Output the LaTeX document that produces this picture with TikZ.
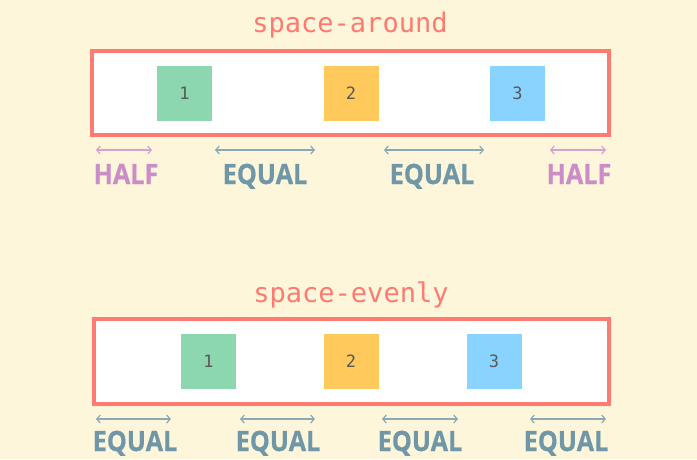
\documentclass[tikz,border=0pt]{standalone}
\usepackage{fontspec}
\setmainfont{Open Sans}
\newfontfamily\monofont{DejaVu Sans Mono}
\newfontfamily\labfont[FakeStretch=0.9,FakeBold=0.6]{Open Sans}
\usetikzlibrary{arrows.meta}
\definecolor{bg}{HTML}{FEF6DB}
\definecolor{salmon}{HTML}{FF7A70}
\definecolor{sqgreen}{HTML}{8CD6B0}
\definecolor{sqyellow}{HTML}{FFC95C}
\definecolor{sqblue}{HTML}{88D3FF}
\definecolor{halfc}{HTML}{CB8DC7}
\definecolor{halfarr}{HTML}{D5A2D2}
\definecolor{equalc}{HTML}{6F97A8}
\definecolor{equalarr}{HTML}{89A9B7}
\tikzset{
  title/.style={text=salmon, font=\monofont\fontsize{27}{27}\selectfont, inner sep=0pt, anchor=base},
  container/.style={draw=salmon, line width=3.2pt, fill=white, inner sep=0pt},
  item/.style={minimum width=55pt, minimum height=55pt, inner sep=0pt, text=black!65, font=\monofont\fontsize{17}{17}\selectfont},
  gap/.style={line width=1.2pt, {Straight Barb[length=3.5pt,width=8pt]}-{Straight Barb[length=3.5pt,width=8pt]}},
  halfgap/.style={gap, draw=halfarr},
  eqgap/.style={gap, draw=equalarr},
  lab/.style={font=\labfont\bfseries\fontsize{28}{28}\selectfont, inner sep=0pt, anchor=base},
  halflab/.style={lab, text=halfc},
  eqlab/.style={lab, text=equalc},
}
\begin{document}
\begin{tikzpicture}[x=1pt,y=-1pt]
\fill[bg] (0,0) rectangle (697,459);
\useasboundingbox (0,0) rectangle (697,459);

% ---- space-around ----
\node[title] (t1) at (350,32) {space-around};
\node[container, minimum width=517pt, minimum height=84pt] (box1) at (350.5,93) {};
\node[item, fill=sqgreen] (a1) at (184.5,93.5) {1};
\node[item, fill=sqyellow] (a2) at (351,93.5) {2};
\node[item, fill=sqblue] (a3) at (517.5,93.5) {3};

\coordinate (p1l) at (96,150);  \coordinate (p1r) at (152,150);
\coordinate (p2l) at (215,150); \coordinate (p2r) at (315,150);
\coordinate (p3l) at (384,150); \coordinate (p3r) at (484,150);
\coordinate (p4l) at (550,150); \coordinate (p4r) at (606,150);
\draw[halfgap] (p1l) -- (p1r);
\draw[eqgap] (p2l) -- (p2r);
\draw[eqgap] (p3l) -- (p3r);
\draw[halfgap] (p4l) -- (p4r);
\node[halflab] (h1) at (126,184) {HALF};
\node[eqlab] (e1) at (265,184) {EQUAL};
\node[eqlab] (e2) at (432,184) {EQUAL};
\node[halflab] (h2) at (579,184) {HALF};

% ---- space-evenly ----
\node[title] (t2) at (351,302) {space-evenly};
\node[container, minimum width=515pt, minimum height=85pt] (box2) at (351.5,361.5) {};
\node[item, fill=sqgreen] (b1) at (208.5,361) {1};
\node[item, fill=sqyellow] (b2) at (351,361) {2};
\node[item, fill=sqblue] (b3) at (494,361) {3};

\coordinate (q1l) at (96,419);  \coordinate (q1r) at (171,419);
\coordinate (q2l) at (240,419); \coordinate (q2r) at (315,419);
\coordinate (q3l) at (382,419); \coordinate (q3r) at (458,419);
\coordinate (q4l) at (530,419); \coordinate (q4r) at (606,419);
\draw[eqgap] (q1l) -- (q1r);
\draw[eqgap] (q2l) -- (q2r);
\draw[eqgap] (q3l) -- (q3r);
\draw[eqgap] (q4l) -- (q4r);
\node[eqlab] (f1) at (135,451) {EQUAL};
\node[eqlab] (f2) at (278,451) {EQUAL};
\node[eqlab] (f3) at (420,451) {EQUAL};
\node[eqlab] (f4) at (566,451) {EQUAL};
\end{tikzpicture}
\end{document}
